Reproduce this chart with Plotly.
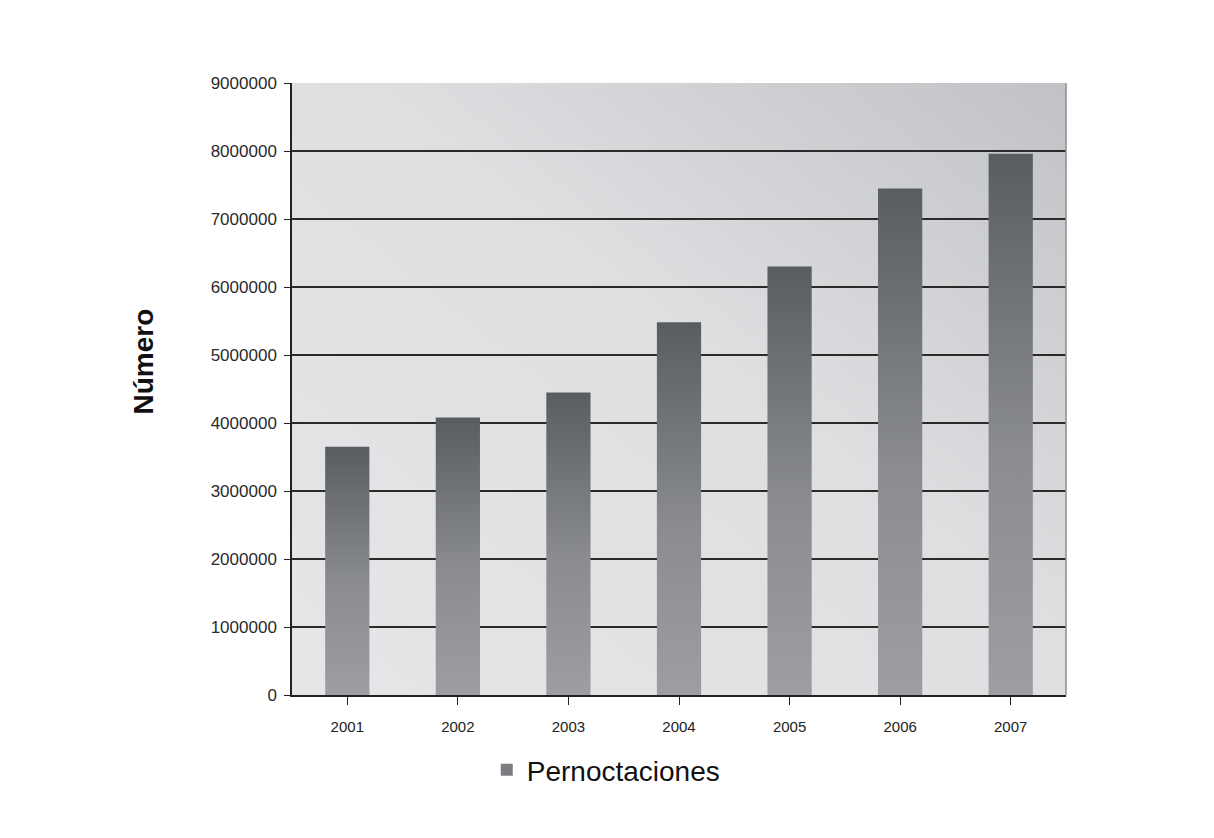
import base64
import plotly.graph_objects as go

years = ["2001", "2002", "2003", "2004", "2005", "2006", "2007"]
pernoctaciones = [3650000, 4080000, 4450000, 5480000, 6300000, 7450000, 7960000]
y_ticks = [0, 1000000, 2000000, 3000000, 4000000, 5000000, 6000000, 7000000, 8000000, 9000000]
series_name = "Pernoctaciones"

half = 0.2
bar_scale = [[0, "#9c9ea1"], [0.45, "#8a8c90"], [1, "#595c60"]]

fig = go.Figure()
for i, (yr, v) in enumerate(zip(years, pernoctaciones)):
    xs = [i - half, i + half, i + half, i - half, i - half]
    ys = [0, 0, v, v, 0]
    fig.add_trace(go.Scatter(
        x=xs, y=ys, mode="none", fill="toself",
        fillgradient=dict(type="vertical", colorscale=bar_scale, start=0, stop=v),
        name=series_name, legendgroup="p", showlegend=False,
        hovertext=f"{yr}: {v}", hoverinfo="text",
    ))

# legend entry (square swatch)
fig.add_trace(go.Bar(x=[None], y=[None], name=series_name, legendgroup="p",
                     marker=dict(color="#7b7d81", line=dict(width=0)), showlegend=True))

# plot-area background gradient (light bottom-left to darker top-right)
svg = ('<svg xmlns="http://www.w3.org/2000/svg" width="100" height="100" preserveAspectRatio="none">'
       '<defs><linearGradient id="g" x1="0" y1="1" x2="1" y2="0">'
       '<stop offset="0" stop-color="#e6e6e8"/><stop offset="0.55" stop-color="#dedfe1"/>'
       '<stop offset="1" stop-color="#c0c2c5"/></linearGradient></defs>'
       '<rect width="100" height="100" fill="url(#g)"/></svg>')
bg_src = "data:image/svg+xml;base64," + base64.b64encode(svg.encode()).decode()

fig.update_layout(
    width=1214, height=838,
    margin=dict(l=284, r=156, t=75, b=151),
    paper_bgcolor="white",
    plot_bgcolor="#dcdde0",
    font=dict(family="Liberation Sans, Arial, sans-serif", color="#222222"),
    showlegend=True,
    legend=dict(orientation="h", x=0.406, xanchor="center", y=-0.1225, yanchor="middle",
                font=dict(size=28, color="#111111")),
    images=[dict(source=bg_src, xref="paper", yref="paper", x=0, y=1, sizex=1, sizey=1,
                 xanchor="left", yanchor="top", sizing="stretch", layer="below")],
    xaxis=dict(
        range=[-0.5, 6.5],
        tickmode="array", tickvals=list(range(len(years))), ticktext=years,
        showgrid=False, zeroline=False,
        showline=True, linecolor="#222222", linewidth=1.5,
        ticks="outside", ticklen=8, tickcolor="#222222",
        tickfont=dict(size=15, color="#222222"),
        tickson="boundaries", ticklabelstandoff=9,
    ),
    yaxis=dict(
        range=[0, 9000000],
        tickmode="array", tickvals=y_ticks, ticktext=[str(t) for t in y_ticks],
        showgrid=True, gridcolor="#2a2a2a", gridwidth=1.5,
        zeroline=False,
        showline=True, linecolor="#222222", linewidth=1.5,
        ticks="outside", ticklen=6, tickcolor="#222222",
        tickfont=dict(size=17, color="#2a2a2a"), ticklabelstandoff=4,
    ),
    annotations=[dict(
        text="<b>Número</b>", xref="paper", yref="paper", x=-0.1925, y=0.545,
        textangle=-90, showarrow=False, font=dict(size=28, color="#111111"),
        xanchor="center", yanchor="middle",
    )],
)

# right border of plot area
fig.add_shape(type="line", xref="paper", yref="paper", x0=1, x1=1, y0=0, y1=1,
              line=dict(color="#8c8c8c", width=1.5))

fig.write_html("out.html")
